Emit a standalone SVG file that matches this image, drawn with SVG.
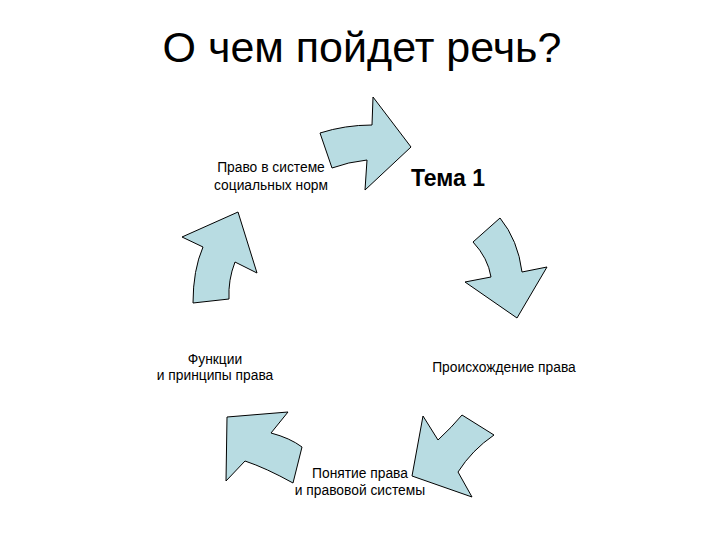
<svg xmlns="http://www.w3.org/2000/svg" width="720" height="540" viewBox="0 0 720 540">
<style>
.arr{fill:#b8dce2;stroke:#000;stroke-width:1;stroke-linejoin:miter}
.lbl{font-family:"Liberation Sans",Arial,sans-serif;font-size:13.8px;fill:#000;text-anchor:middle}
</style>
<rect width="720" height="540" fill="#fff"/>
<text x="362" y="62" font-family="Liberation Sans,Arial,sans-serif" font-size="43" text-anchor="middle" fill="#000">О чем пойдет речь?</text>
<g id="connectors">
<path class="arr" d="M320,133 Q345,125 372,125 L373,97 L411,147 L365,190 L367,160 Q348,162 332,168 Z"/>
<path class="arr" d="M500,218 L473,242 Q488,258 491,277 L465,282 L517,318 L547,267 L522,272 Q518,240 500,218 Z"/>
<path class="arr" d="M423,416 L438,440 Q452,427 462,415 L494,435 Q472,450 458,472 L472,497 L412,476 Z"/>
<path class="arr" d="M227,417 L288,412 L271,433 Q290,438 302,447 L293,483 Q266,468 245,461 L226,481 Z"/>
<path class="arr" d="M182,237 L238,212 L257,273 L235,262 Q228,280 229,299 L193,303 Q193,270 203,247 Z"/>
</g>
<g id="n-pravo"><text class="lbl" x="271" y="172">Право в системе</text><text class="lbl" x="271" y="190">социальных норм</text></g>
<g id="n-tema"><text x="448" y="186" font-family="Liberation Sans,Arial,sans-serif" font-size="23" font-weight="bold" text-anchor="middle">Тема 1</text></g>
<g id="n-proish"><text class="lbl" x="504" y="372">Происхождение права</text></g>
<g id="n-ponyatie"><text class="lbl" x="360" y="478">Понятие права</text><text class="lbl" x="360" y="495">и правовой системы</text></g>
<g id="n-funk"><text class="lbl" x="215" y="364">Функции</text><text class="lbl" x="215" y="380">и принципы права</text></g>
</svg>
